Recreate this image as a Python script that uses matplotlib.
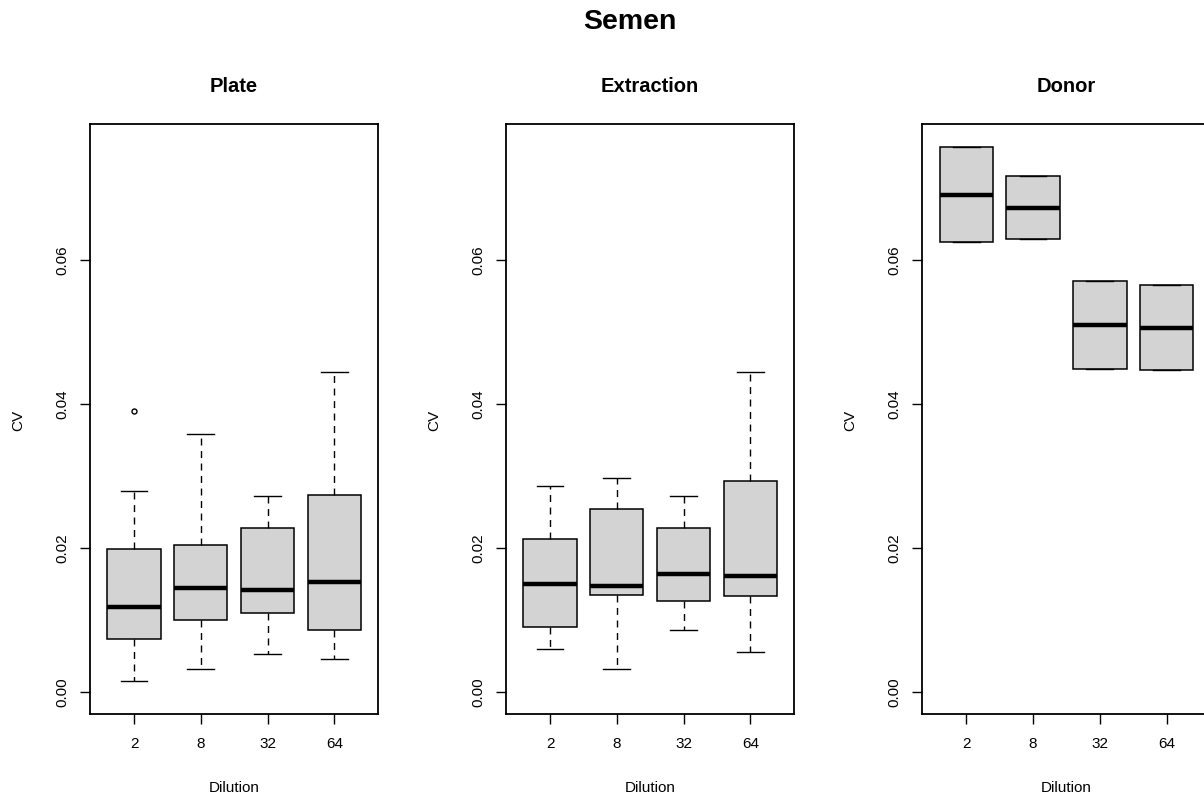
import matplotlib
matplotlib.use("Agg")
import matplotlib.pyplot as plt

plt.rcParams['font.family'] = ['Liberation Sans', 'DejaVu Sans']

dilutions = ["2", "8", "32", "64"]
panel_titles = ["Plate", "Extraction", "Donor"]

# Plate
plate_whislo = [0.00154, 0.00318, 0.00525, 0.00456]
plate_q1 = [0.00737, 0.00997, 0.01097, 0.00864]
plate_med = [0.01187, 0.01442, 0.01410, 0.01532]
plate_q3 = [0.01993, 0.02041, 0.02274, 0.02730]
plate_whishi = [0.02794, 0.03589, 0.02725, 0.04442]
plate_fliers = [[0.03907], [], [], []]

# Extraction
extr_whislo = [0.00594, 0.00318, 0.00864, 0.00551]
extr_q1 = [0.00901, 0.01341, 0.01267, 0.01330]
extr_med = [0.01500, 0.01474, 0.01638, 0.01606]
extr_q3 = [0.02126, 0.02544, 0.02274, 0.02937]
extr_whishi = [0.02868, 0.02968, 0.02725, 0.04442]
extr_fliers = [[], [], [], []]

# Donor (two values per group: box spans min..max)
donor_whislo = [0.06250, 0.06287, 0.04490, 0.04474]
donor_q1 = [0.06250, 0.06287, 0.04490, 0.04474]
donor_med = [0.06907, 0.06727, 0.05094, 0.05062]
donor_q3 = [0.07564, 0.07161, 0.05714, 0.05656]
donor_whishi = [0.07564, 0.07161, 0.05714, 0.05656]
donor_fliers = [[], [], [], []]

panels = [
    (plate_whislo, plate_q1, plate_med, plate_q3, plate_whishi, plate_fliers),
    (extr_whislo, extr_q1, extr_med, extr_q3, extr_whishi, extr_fliers),
    (donor_whislo, donor_q1, donor_med, donor_q3, donor_whishi, donor_fliers),
]

W, H = 1204, 800
fig = plt.figure(figsize=(W / 100, H / 100), dpi=100)
fig.text(630 / W, 1 - 22 / H, "Semen", ha="center", va="center",
         fontsize=20.5, fontweight="bold")

lefts = [90, 506, 922.3]
aw = 288.3
top_px, bot_px = 124, 714
ah = bot_px - top_px

for i, (wl, q1, med, q3, wh, fl) in enumerate(panels):
    ax = fig.add_axes([lefts[i] / W, (H - bot_px) / H, aw / W, ah / H])
    stats = []
    for j in range(len(dilutions)):
        stats.append(dict(whislo=wl[j], q1=q1[j], med=med[j], q3=q3[j],
                          whishi=wh[j], fliers=fl[j], label=dilutions[j]))
    ax.bxp(stats, positions=range(1, len(dilutions) + 1), widths=0.8,
           patch_artist=True, showfliers=True,
           boxprops=dict(facecolor="#D3D3D3", edgecolor="black", linewidth=1.1),
           medianprops=dict(color="black", linewidth=3.2, solid_capstyle="butt"),
           whiskerprops=dict(color="black", linewidth=1.0, linestyle=(0, (5, 4))),
           capprops=dict(color="black", linewidth=1.0),
           capwidths=0.4,
           flierprops=dict(marker="o", markersize=3.6, markerfacecolor="none",
                           markeredgecolor="black", markeredgewidth=1.0))
    ax.set_xlim(0.34, 4.66)
    ax.set_ylim(-0.00306, 0.0789)
    ax.set_yticks([0.0, 0.02, 0.04, 0.06])
    ax.set_yticklabels(["0.00", "0.02", "0.04", "0.06"])
    ax.set_xticks(range(1, len(dilutions) + 1))
    ax.set_xticklabels(dilutions)
    for lab in ax.get_yticklabels():
        lab.set_rotation(90)
        lab.set_va("center")
    ax.tick_params(axis="both", length=7.2, width=1.0, labelsize=11, colors="black")
    ax.tick_params(axis="y", pad=8)
    ax.tick_params(axis="x", pad=9)
    for s in ax.spines.values():
        s.set_linewidth(1.3)
    ax.text(0.5, 1 + (top_px - 86.5) / ah, panel_titles[i], transform=ax.transAxes,
            ha="center", va="center", fontsize=14.5, fontweight="bold")
    ax.text(0.5, -(788 - bot_px) / ah, "Dilution", transform=ax.transAxes,
            ha="center", va="center", fontsize=11)
    ax.text(-72 / aw, (bot_px - 420) / ah, "CV",
            transform=ax.transAxes, ha="center", va="center", rotation=90, fontsize=11)

fig.savefig("out.png", dpi=100)
